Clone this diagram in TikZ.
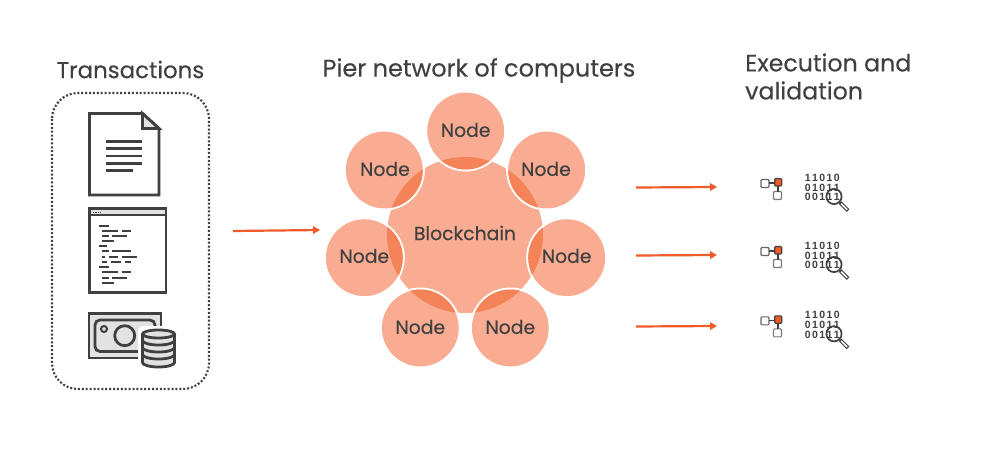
\documentclass[tikz,border=0pt]{standalone}
\usepackage{fontspec}
\setmainfont{Poppins}
\newfontfamily\headfont[FakeBold=0.25]{Poppins}
\newfontfamily\binfont{Liberation Sans}
\usetikzlibrary{arrows.meta}
\definecolor{ink}{HTML}{404040}
\definecolor{peach}{HTML}{F9AC92}
\definecolor{deep}{HTML}{F48358}
\definecolor{redl}{HTML}{F15A29}
\definecolor{pale}{HTML}{E2E2E2}
\tikzset{
  x=1pt,y=-1pt,
  title/.style={font=\headfont\fontsize{23.7}{27}\selectfont,text=ink,inner sep=0pt},
  nodelabel/.style={font=\headfont\fontsize{18.8}{20}\selectfont,text=ink,inner sep=0pt},
  smallnode/.style={circle,inner sep=0pt,fill=peach},
  bigone/.style={circle,minimum size=156pt,inner sep=0pt,fill=peach},
  flow/.style={draw=redl,line width=2.2pt,-{Triangle[length=7pt,width=7.5pt]}},
  iconline/.style={draw=ink,line width=2.8pt},
  codeline/.style={draw=ink,line width=2.1pt},
  bit/.style={font=\binfont\bfseries\fontsize{10.5}{10.5}\selectfont,text=ink,inner sep=0pt},
}
\newcommand{\bitrun}[2]{%
  \foreach \c [count=\i from 0] in {#2}{\node[bit] at (#1) [xshift=\i*7.3pt] {\c};}}
\newcommand{\minicon}[2]{%
 \begin{scope}[shift={(#1,#2)}]
  \draw[draw=ink!80,line width=1.1pt,rounded corners=1pt] (761,179.5) rectangle (769,187.5);
  \draw[draw=ink!70,line width=1.1pt,rounded corners=1pt] (773.5,191.5) rectangle (781.5,199.5);
  \draw[draw=ink,line width=1.2pt] (769,183) -- (775,183);
  \draw[draw=ink,line width=1.2pt] (778,186) -- (778,192);
  \fill[fill=redl,draw=ink,line width=1.1pt,rounded corners=1pt] (774.7,178.5) rectangle (781.7,186);
  \bitrun{807.7,177.7}{1,1,0,1,0}
  \bitrun{807.7,187.5}{0,1,0,1,1}
  \bitrun{807.7,197.3}{0,0,1,1,1}
  \draw[draw=ink,line width=1.7pt] (834,196.5) circle[radius=7.6];
  \draw[draw=ink,line width=3.6pt] (840,202.5) -- (848,210.5);
  \draw[draw=white,line width=1.5pt] (841.2,203.7) -- (847.2,209.7);
 \end{scope}}
\begin{document}
\begin{tikzpicture}
\useasboundingbox (0,0) rectangle (1003,457);
\fill[white] (0,0) rectangle (1003,457);
% titles
\node[title,anchor=center,font=\headfont\fontsize{22.9}{27}\selectfont] (t1) at (130.5,69.5) {Transactions};
\node[title,anchor=center,font=\headfont\fontsize{24}{27}\selectfont] (t2) at (479,70.5) {Pier network of computers};
\node[title,anchor=west] (t3a) at (745,62.5) {Execution and};
\node[title,anchor=west] (t3b) at (745,90.5) {validation};
% dotted box
\draw[draw=ink,line width=2.1pt,dash pattern=on 2pt off 1.9pt,rounded corners=26pt] (52,93) rectangle (209,389);
% document
\draw[iconline,line join=miter] (89.5,113.5) -- (142.5,113.5) -- (159,128.5) -- (159,195) -- (89.5,195) -- cycle;
\draw[iconline,fill=pale] (142.5,113.5) -- (142.5,128.5) -- (159,128.5) -- cycle;
\foreach \y/\e in {141.3/142,148.7/142,156/142,163.3/142,170.3/133}{\draw[iconline] (106,\y) -- (\e,\y);}
% window
\draw[iconline,fill=pale] (89.5,208.5) rectangle (166,215);
\draw[iconline] (89.5,215) -- (89.5,292.5) -- (166,292.5) -- (166,215);
\draw[draw=ink,line width=1pt,dash pattern=on 1.3pt off 1pt] (93,212) -- (100,212);
\foreach \a/\b/\y in {99/109/226,102/118/231.3,122/130.7/231.3,102/108.7/236.3,112.3/127.3/236.3,102/114/241.3,99/106.7/246.3,102/108.7/251.3,112.3/130.7/251.3,102/105.3/256.7,108.7/118/256.7,122/137/256.7,102/107.3/261.7,111/121/261.7,124.7/130.7/261.7,99/109/267.3,102/118/272.3,122/130.7/272.3,102/108.7/277.7,112.3/127.3/277.7,102/114/283}{\draw[codeline] (\a,\y) -- (\b,\y);}
% money
\draw[iconline,fill=pale] (89,313.5) rectangle (161,358);
\draw[iconline,rounded corners=5pt] (95,320) rectangle (155,351.5);
\draw[draw=ink,line width=2pt,fill=pale] (104,329) circle[radius=3];
\draw[iconline,fill=pale] (124.7,335.7) circle[radius=10];
% coins
\fill[white,rounded corners=6pt] (138,326) rectangle (179,371);
\draw[iconline,fill=pale] (142.5,334) -- (142.5,362.5) arc[start angle=180,end angle=360,x radius=16,y radius=-4.5] -- (174.5,334);
\draw[iconline,fill=pale] (158.5,334) ellipse[x radius=16,y radius=4];
\foreach \y in {340.5,347.5,354.5}{\draw[iconline] (142.5,\y) arc[start angle=180,end angle=360,x radius=16,y radius=-4.5];}
% network
\node[bigone] (chain) at (465,235) {};
\foreach \n/\p in {n1/{465.7,131},n2/{546.7,170},n3/{566.7,257.7},n4/{510.3,328},n5/{420.3,328},n6/{364.3,257.7},n7/{384.3,170}}{
  \node[smallnode,draw=white,line width=2pt,minimum size=79pt] (\n) at (\p) {};
  \begin{scope}
    \clip (465,235) circle[radius=78];
    \fill[deep] (\p) circle[radius=38.5];
  \end{scope}
}
\node[nodelabel] at (chain) [yshift=2pt] {Blockchain};
\foreach \n/\p in {l1/{465.7,130},l2/{546,169},l3/{566.7,256},l4/{510.3,327},l5/{420.3,327},l6/{364.3,256},l7/{385,169}}{\node[nodelabel] (\n) at (\p) {Node};}
% arrows
\coordinate (a0s) at (233,231); \coordinate (a0e) at (320,230);
\draw[flow] (a0s) -- (a0e);
\foreach \y in {187,255,326}{
  \coordinate (as\y) at (636,\y+.5); \coordinate (ae\y) at (717,\y);
  \draw[flow] (as\y) -- (ae\y);
}
\minicon{0}{0}
\minicon{0}{68}
\minicon{0}{137.3}
\end{tikzpicture}
\end{document}
